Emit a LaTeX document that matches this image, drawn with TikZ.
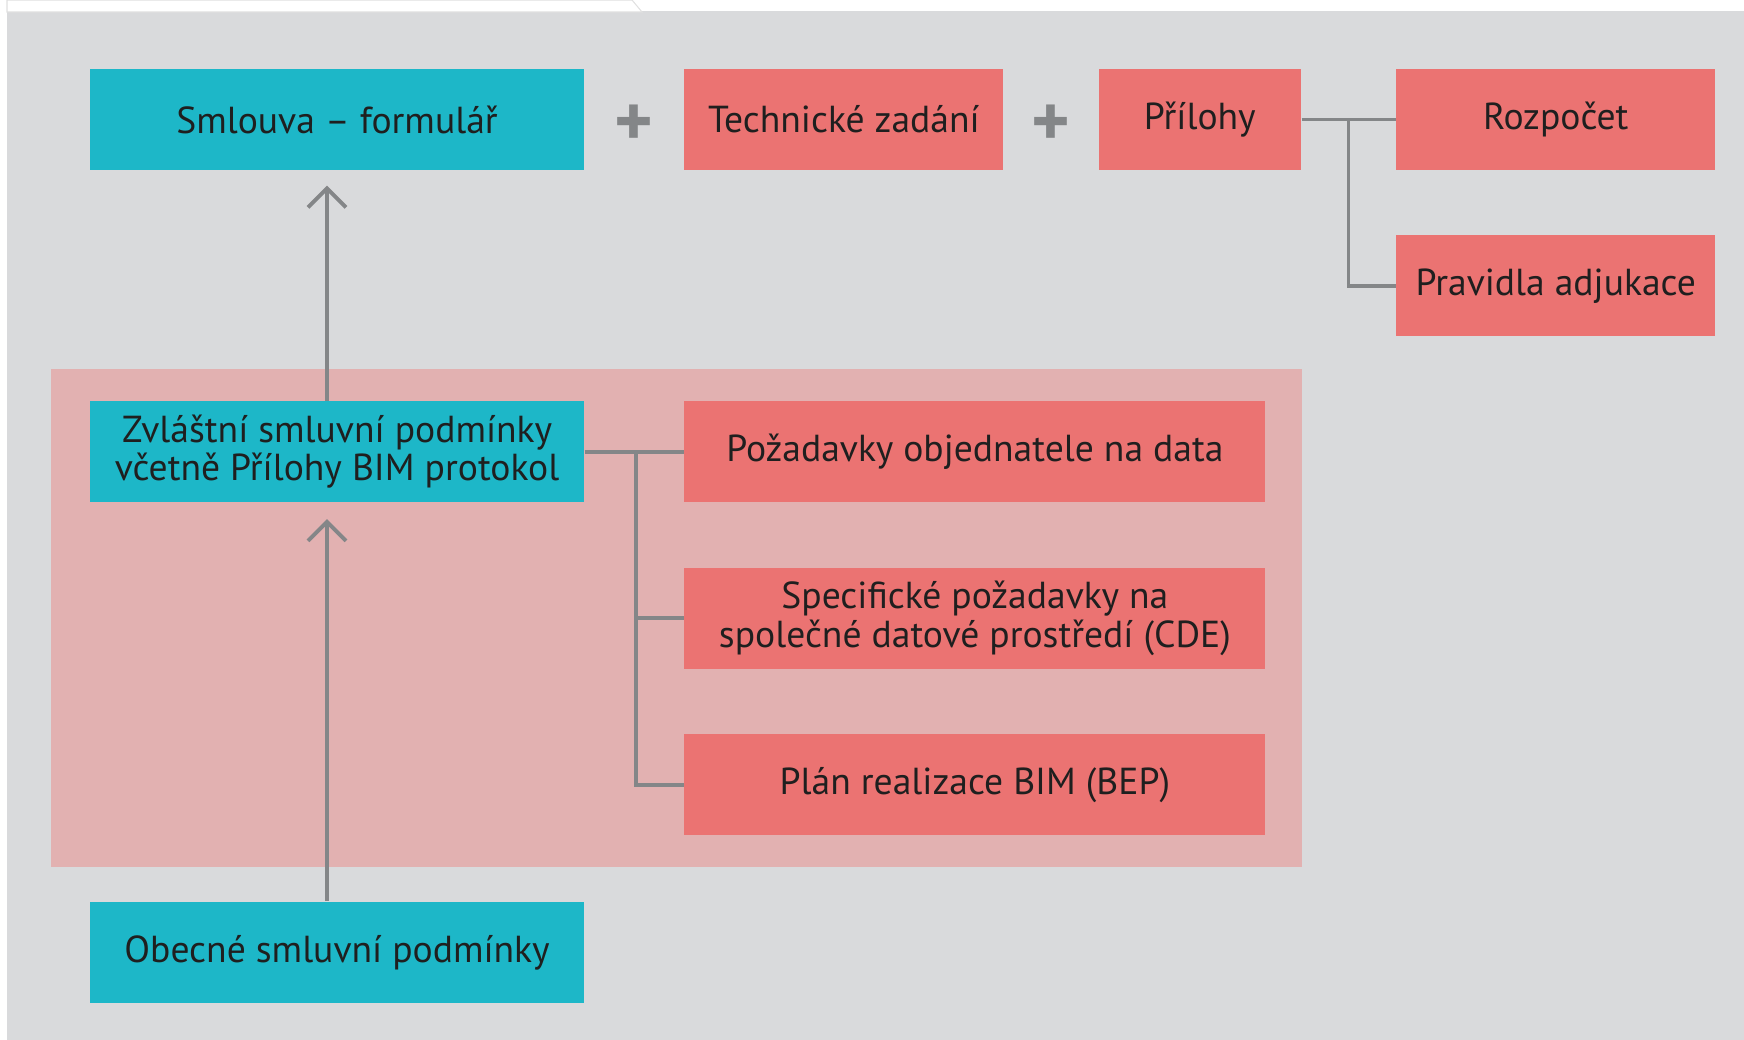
\documentclass[tikz,border=0pt]{standalone}
\usepackage{fontspec}
\setmainfont{PT Sans}
\usetikzlibrary{positioning,calc,arrows.meta,backgrounds}
\definecolor{tealbox}{HTML}{1DB7C8}
\definecolor{redbox}{HTML}{EB7372}
\definecolor{pinkarea}{HTML}{E2B1B1}
\definecolor{paper}{HTML}{D9DADC}
\definecolor{linegray}{HTML}{848688}
\tikzset{
node distance=6.4mm and 9.4mm, % vertical and horizontal gaps between boxes
box/.style={minimum height=10.1mm, inner sep=0pt, align=center, text=black!88,
  font=\fontsize{10.7}{10.9}\selectfont},
contract/.style={box, fill=tealbox, minimum width=49.4mm}, % the blue contract parts
annex/.style={box, fill=redbox}, % the red attachments
link/.style={draw=linegray, line width=1.1pt},
up/.style={link, -{Straight Barb[length=1.9mm,width=3.8mm]}},
plus/.style={text=linegray, font=\fontsize{21}{21}\selectfont\bfseries, yshift=-0.6mm},
}

\begin{document}
\begin{tikzpicture}
  \useasboundingbox (0,0) rectangle (174.4mm,-104mm);

  \node[contract] (smlouva) at (33.7mm,-11.95mm) {Smlouva – formulář};
  \node[annex, minimum width=31.9mm, right=9.9mm of smlouva] (zadani) {Technické zadání};
  \node[annex, minimum width=20.2mm, right=of zadani] (prilohy) {Přílohy};
  \node[annex, minimum width=31.9mm, right=of prilohy] (rozpocet) {Rozpočet};
  \node[annex, minimum width=31.9mm, below=of rozpocet] (pravidla) {Pravidla adjukace};

  \node[contract, below=23mm of smlouva] (zvlastni) {Zvláštní smluvní podmínky\\včetně Přílohy BIM protokol};
  \node[annex, minimum width=58.1mm, right=9.9mm of zvlastni] (objednatel) {Požadavky objednatele na data};
  \node[annex, minimum width=58.1mm, below=of objednatel] (cde) {Specifické požadavky na\\společné datové prostředí (CDE)};
  \node[annex, minimum width=58.1mm, below=of cde] (bep) {Plán realizace BIM (BEP)};
  \node[contract, below=39.8mm of zvlastni] (obecne) {Obecné smluvní podmínky};

  \node[plus] (plus1) at ($(smlouva.east)!0.5!(zadani.west)$) {+};
  \node[plus] (plus2) at ($(zadani.east)!0.5!(prilohy.west)$) {+};

  \begin{scope}[on background layer]
    \fill[paper] (0.7mm,-1.1mm) rectangle (174.4mm,-104mm);
    \filldraw[fill=white, draw=black!12, line width=0.3pt]
      (0.7mm,0) -- (0.7mm,-1.2mm) -- (64.2mm,-1.2mm) -- (63.2mm,0) -- cycle;
    \fill[pinkarea] ([xshift=-3.8mm,yshift=3.2mm]zvlastni.north west) rectangle ([xshift=3.6mm,yshift=-3.1mm]bep.south east);
  \end{scope}

  % attachments
  \coordinate (j1) at ($(prilohy.east)!0.5!(rozpocet.west)$);
  \draw[link] (prilohy.east) -- (rozpocet.west)
              (j1) |- (pravidla.west);
  \coordinate (j2) at ($(zvlastni.east)!0.52!(objednatel.west)$);
  \draw[link] (zvlastni.east) -- (objednatel.west)
              (j2) |- (cde.west)
              (j2) |- (bep.west);

  % precedence
  \draw[up, shorten >=1.5mm] ([xshift=-1mm]zvlastni.north) -- ([xshift=-1mm]smlouva.south);
  \draw[up, shorten >=1.6mm] ([xshift=-1mm]obecne.north) -- ([xshift=-1mm]zvlastni.south);
\end{tikzpicture}
\end{document}
